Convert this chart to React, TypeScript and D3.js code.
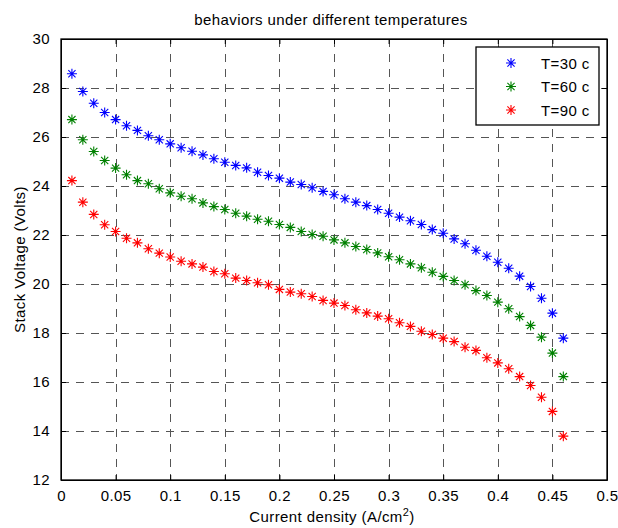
import React, { useEffect, useRef } from 'react';
import * as d3 from 'd3';

// current density (A/cm^2)
const current = [
  0.01, 0.02, 0.03, 0.04, 0.05, 0.06, 0.07, 0.08, 0.09, 0.1,
  0.11, 0.12, 0.13, 0.14, 0.15, 0.16, 0.17, 0.18, 0.19, 0.2,
  0.21, 0.22, 0.23, 0.24, 0.25, 0.26, 0.27, 0.28, 0.29, 0.3,
  0.31, 0.32, 0.33, 0.34, 0.35, 0.36, 0.37, 0.38, 0.39, 0.4,
  0.41, 0.42, 0.43, 0.44, 0.45, 0.46,
];

const volt30 = [
  28.58, 27.86, 27.38, 27.0, 26.71, 26.46, 26.27, 26.05, 25.89, 25.72,
  25.56, 25.42, 25.27, 25.11, 24.97, 24.84, 24.74, 24.56, 24.43, 24.32,
  24.16, 24.06, 23.93, 23.78, 23.64, 23.48, 23.34, 23.2, 23.04, 22.89,
  22.73, 22.58, 22.43, 22.22, 22.07, 21.84, 21.64, 21.38, 21.13, 20.89,
  20.64, 20.32, 19.9, 19.42, 18.81, 17.79,
];

const volt60 = [
  26.71, 25.89, 25.41, 25.04, 24.73, 24.46, 24.22, 24.09, 23.89, 23.72,
  23.58, 23.48, 23.31, 23.16, 23.04, 22.89, 22.77, 22.64, 22.56, 22.43,
  22.31, 22.14, 22.02, 21.95, 21.8, 21.68, 21.53, 21.41, 21.27, 21.11,
  20.99, 20.82, 20.66, 20.48, 20.31, 20.14, 19.97, 19.73, 19.53, 19.26,
  18.99, 18.67, 18.31, 17.83, 17.18, 16.22,
];

const volt90 = [
  24.22, 23.34, 22.84, 22.42, 22.14, 21.87, 21.68, 21.44, 21.26, 21.1,
  20.93, 20.82, 20.69, 20.51, 20.42, 20.24, 20.14, 20.05, 19.97, 19.78,
  19.67, 19.6, 19.49, 19.33, 19.22, 19.12, 18.95, 18.82, 18.69, 18.58,
  18.42, 18.27, 18.07, 17.94, 17.79, 17.65, 17.42, 17.29, 16.99, 16.78,
  16.54, 16.22, 15.86, 15.38, 14.8, 13.79,
];

const seriesNames = ['T=30 c', 'T=60 c', 'T=90 c'];
const seriesColors = ['#0000ff', '#008000', '#ff0000'];
const xTicks = [0, 0.05, 0.1, 0.15, 0.2, 0.25, 0.3, 0.35, 0.4, 0.45, 0.5];
const yTicks = [12, 14, 16, 18, 20, 22, 24, 26, 28, 30];

const W = 618;
const H = 528;
const left = 61, right = 607, top = 39, bottom = 480;
const font = '"Liberation Sans", Arial, Helvetica, sans-serif';

// matlab style '*' marker
function star(r: number) {
  const d = r * 0.72;
  return `M${-r},0L${r},0M0,${-r}L0,${r}M${-d},${-d}L${d},${d}M${-d},${d}L${d},${-d}`;
}

export default function App() {
  const ref = useRef<SVGSVGElement>(null);

  useEffect(() => {
    const svg = d3.select(ref.current);
    svg.selectAll('*').remove();

    const x = d3.scaleLinear().domain([0, 0.5]).range([left, right]);
    const y = d3.scaleLinear().domain([12, 30]).range([bottom, top]);

    svg.append('rect').attr('width', W).attr('height', H).attr('fill', '#fff');

    // grid
    const grid = svg.append('g')
      .attr('stroke', '#555')
      .attr('stroke-width', 1)
      .attr('stroke-dasharray', '8,7');
    grid.selectAll('.vg')
      .data(xTicks.slice(1, -1))
      .enter().append('line')
      .attr('x1', d => Math.round(x(d)) + 0.5)
      .attr('x2', d => Math.round(x(d)) + 0.5)
      .attr('y1', top).attr('y2', bottom);
    grid.selectAll('.hg')
      .data(yTicks.slice(1, -1))
      .enter().append('line')
      .attr('y1', d => Math.round(y(d)) + 0.5)
      .attr('y2', d => Math.round(y(d)) + 0.5)
      .attr('x1', left).attr('x2', right);

    // axes box + inward ticks
    const axisG = svg.append('g');
    axisG.append('g')
      .attr('transform', `translate(0,${bottom})`)
      .call(d3.axisBottom(x).tickValues(xTicks).tickSizeInner(-5).tickSizeOuter(0).tickPadding(10).tickFormat(d => String(d)));
    axisG.append('g')
      .attr('transform', `translate(0,${top})`)
      .call(d3.axisTop(x).tickValues(xTicks).tickSizeInner(-5).tickSizeOuter(0).tickFormat(() => ''));
    axisG.append('g')
      .attr('transform', `translate(${left},0)`)
      .call(d3.axisLeft(y).tickValues(yTicks).tickSizeInner(-5).tickSizeOuter(0).tickPadding(11).tickFormat(d => String(d)));
    axisG.append('g')
      .attr('transform', `translate(${right},0)`)
      .call(d3.axisRight(y).tickValues(yTicks).tickSizeInner(-5).tickSizeOuter(0).tickFormat(() => ''));
    axisG.selectAll('.domain').attr('stroke', '#000');
    axisG.selectAll('.tick line').attr('stroke', '#000');
    axisG.selectAll('.tick text')
      .attr('fill', '#000')
      .style('font-family', font)
      .style('font-size', '15px')
      .style('letter-spacing', '0.4px');
    svg.append('rect')
      .attr('x', left).attr('y', top)
      .attr('width', right - left).attr('height', bottom - top)
      .attr('fill', 'none').attr('stroke', '#000').attr('stroke-width', 1.3);

    // series
    const allSeries = [volt30, volt60, volt90];
    allSeries.forEach((vals, i) => {
      svg.append('g')
        .selectAll('path')
        .data(vals)
        .enter().append('path')
        .attr('d', star(5))
        .attr('transform', (d, j) => `translate(${x(current[j])},${y(d)})`)
        .attr('stroke', seriesColors[i])
        .attr('stroke-width', 1.1)
        .attr('fill', 'none');
    });

    // legend
    const lg = svg.append('g');
    lg.append('rect')
      .attr('x', 476).attr('y', 47).attr('width', 123).attr('height', 78)
      .attr('fill', '#fff').attr('stroke', '#000').attr('stroke-width', 1.3);
    seriesNames.forEach((name, i) => {
      const cy = 63 + i * 23.5;
      lg.append('path')
        .attr('d', star(5))
        .attr('transform', `translate(511,${cy})`)
        .attr('stroke', seriesColors[i])
        .attr('stroke-width', 1.1)
        .attr('fill', 'none');
      lg.append('text')
        .attr('x', 541).attr('y', cy + 5.5)
        .style('font-family', font).style('font-size', '15px').style('letter-spacing', '0.4px')
        .text(name);
    });

    // title
    svg.append('text')
      .attr('x', 331).attr('y', 25)
      .attr('text-anchor', 'middle')
      .style('font-family', font).style('font-size', '15px').style('letter-spacing', '0.4px')
      .text('behaviors under different temperatures');

    // x label
    const xl = svg.append('text')
      .attr('x', 332).attr('y', 522)
      .attr('text-anchor', 'middle')
      .style('font-family', font).style('font-size', '15px').style('letter-spacing', '0.4px');
    xl.append('tspan').text('Current density (A/cm');
    xl.append('tspan').attr('dy', -6).style('font-size', '11px').text('2');
    xl.append('tspan').attr('dy', 6).text(')');

    // y label
    svg.append('text')
      .attr('transform', `translate(25,${(top + bottom) / 2}) rotate(-90)`)
      .attr('text-anchor', 'middle')
      .style('font-family', font).style('font-size', '15px').style('letter-spacing', '0.4px')
      .text('Stack Voltage (Volts)');
  }, []);

  return (
    <svg
      ref={ref}
      width={W}
      height={H}
      style={{ position: 'absolute', left: 0, top: 0, background: '#fff' }}
    />
  );
}
